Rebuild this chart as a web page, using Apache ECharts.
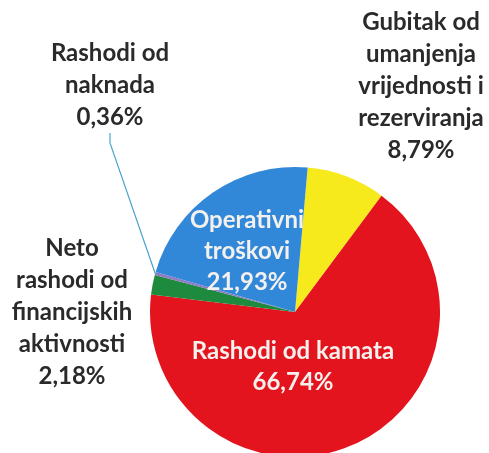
<!DOCTYPE html>
<html>
<head>
<meta charset="utf-8">
<script src="https://cdn.jsdelivr.net/npm/echarts@6/dist/echarts.min.js"></script>
<style>
  html, body { margin: 0; padding: 0; background: #fff; }
  #chart { width: 489px; height: 453px; }
</style>
</head>
<body>
<div id="chart"></div>
<script>
// slices, clockwise from the top
const names = [
  'Gubitak od\numanjenja\nvrijednosti i\nrezerviranja',
  'Rashodi od kamata',
  'Neto\nrashodi od\nfinancijskih\naktivnosti',
  'Rashodi od\nnaknada',
  'Operativni\ntroškovi'
]
const shares = [8.79, 66.74, 2.18, 0.36, 21.93]
const colors = ['#f7ea1c', '#e3141d', '#1d8a3e', '#8f7ac4', '#3188d8']

// label centres (x, y) and which ones sit inside the slice
const labelPos = [[421, 86], [293, 367], [72, 312], [110, 85], [247, 251]]
const inside = [false, true, false, false, true]

const chart = echarts.init(document.getElementById('chart'))

const fmt = v => v.toFixed(2).replace('.', ',') + '%'

chart.setOption({
  animation: false,
  series: [{
    type: 'pie',
    center: [295, 312],
    radius: 145,
    startAngle: 85,
    clockwise: true,
    avoidLabelOverlap: false,
    itemStyle: { borderWidth: 0 },
    label: {
      show: true,
      fontFamily: 'Lato',
      fontWeight: 'bold',
      fontSize: 24,
      lineHeight: 32,
      align: 'center',
      formatter: p => p.name + '\n' + fmt(p.value)
    },
    labelLine: { show: false },
    labelLayout: p => ({
      x: labelPos[p.dataIndex][0],
      y: labelPos[p.dataIndex][1],
      align: 'center',
      verticalAlign: 'middle'
    }),
    data: names.map((n, i) => ({
      name: n,
      value: shares[i],
      itemStyle: { color: colors[i] },
      label: {
        color: inside[i] ? '#f4f0ee' : '#2a2a2a',
        lineHeight: inside[i] ? 31 : 32
      },
      labelLine: i === 3
        ? { show: true, length: 8, length2: 10, lineStyle: { color: '#4aa3cf', width: 1.2 } }
        : { show: false }
    }))
  }]
})
</script>
</body>
</html>
